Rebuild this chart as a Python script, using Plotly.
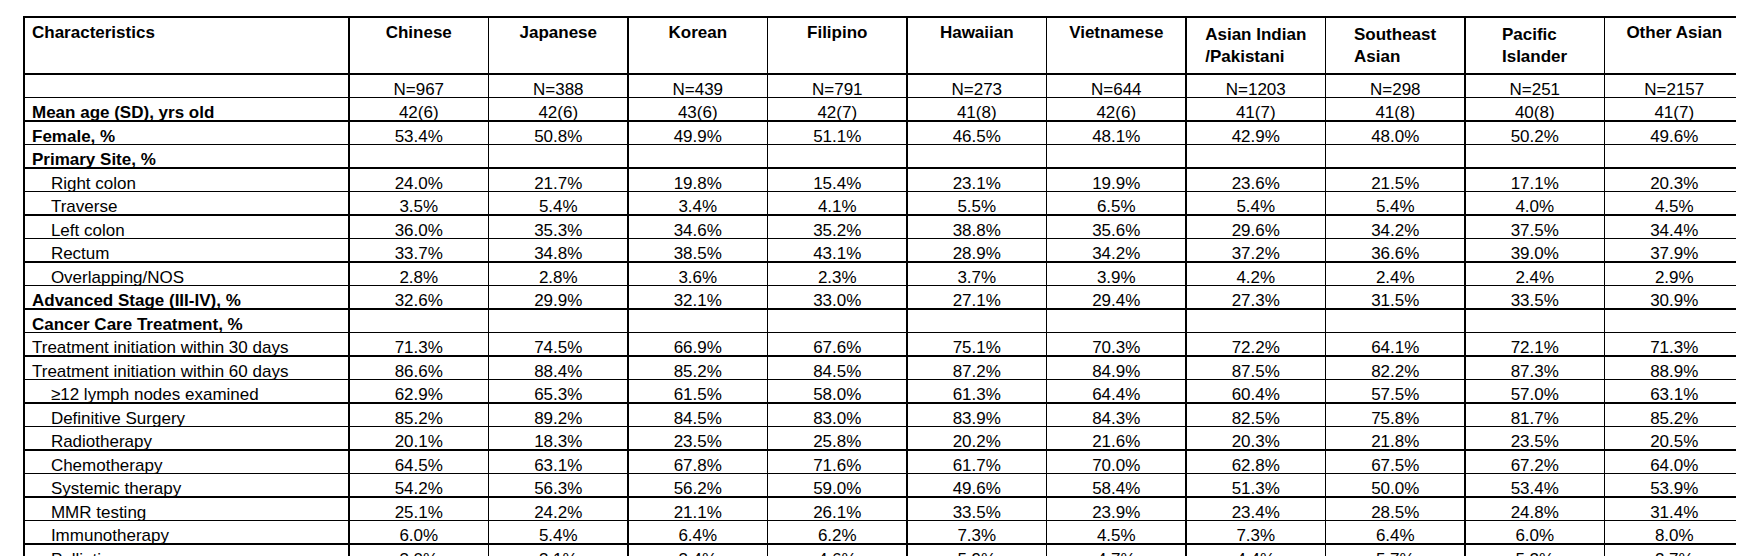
import plotly.graph_objects as go

groups = ["Chinese", "Japanese", "Korean", "Filipino", "Hawaiian", "Vietnamese",
          "Asian Indian<br>/Pakistani", "Southeast<br>Asian", "Pacific<br>Islander", "Other Asian"]
n_sizes = [967, 388, 439, 791, 273, 644, 1203, 298, 251, 2157]

# (label, bold, indent, values)
rows = [
    ("Mean age (SD), yrs old", True, False,
     ["42(6)", "42(6)", "43(6)", "42(7)", "41(8)", "42(6)", "41(7)", "41(8)", "40(8)", "41(7)"]),
    ("Female, %", True, False,
     [53.4, 50.8, 49.9, 51.1, 46.5, 48.1, 42.9, 48.0, 50.2, 49.6]),
    ("Primary Site, %", True, False, None),
    ("Right colon", False, True, [24.0, 21.7, 19.8, 15.4, 23.1, 19.9, 23.6, 21.5, 17.1, 20.3]),
    ("Traverse", False, True, [3.5, 5.4, 3.4, 4.1, 5.5, 6.5, 5.4, 5.4, 4.0, 4.5]),
    ("Left colon", False, True, [36.0, 35.3, 34.6, 35.2, 38.8, 35.6, 29.6, 34.2, 37.5, 34.4]),
    ("Rectum", False, True, [33.7, 34.8, 38.5, 43.1, 28.9, 34.2, 37.2, 36.6, 39.0, 37.9]),
    ("Overlapping/NOS", False, True, [2.8, 2.8, 3.6, 2.3, 3.7, 3.9, 4.2, 2.4, 2.4, 2.9]),
    ("Advanced Stage (III-IV), %", True, False,
     [32.6, 29.9, 32.1, 33.0, 27.1, 29.4, 27.3, 31.5, 33.5, 30.9]),
    ("Cancer Care Treatment, %", True, False, None),
    ("Treatment initiation within 30 days", False, False,
     [71.3, 74.5, 66.9, 67.6, 75.1, 70.3, 72.2, 64.1, 72.1, 71.3]),
    ("Treatment initiation within 60 days", False, False,
     [86.6, 88.4, 85.2, 84.5, 87.2, 84.9, 87.5, 82.2, 87.3, 88.9]),
    ("≥12 lymph nodes examined", False, True, [62.9, 65.3, 61.5, 58.0, 61.3, 64.4, 60.4, 57.5, 57.0, 63.1]),
    ("Definitive Surgery", False, True, [85.2, 89.2, 84.5, 83.0, 83.9, 84.3, 82.5, 75.8, 81.7, 85.2]),
    ("Radiotherapy", False, True, [20.1, 18.3, 23.5, 25.8, 20.2, 21.6, 20.3, 21.8, 23.5, 20.5]),
    ("Chemotherapy", False, True, [64.5, 63.1, 67.8, 71.6, 61.7, 70.0, 62.8, 67.5, 67.2, 64.0]),
    ("Systemic therapy", False, True, [54.2, 56.3, 56.2, 59.0, 49.6, 58.4, 51.3, 50.0, 53.4, 53.9]),
    ("MMR testing", False, True, [25.1, 24.2, 21.1, 26.1, 33.5, 23.9, 23.4, 28.5, 24.8, 31.4]),
    ("Immunotherapy", False, True, [6.0, 5.4, 6.4, 6.2, 7.3, 4.5, 7.3, 6.4, 6.0, 8.0]),
    ("Palliative care", False, True, [3.0, 3.1, 3.4, 4.6, 5.9, 4.7, 4.4, 5.7, 5.2, 2.7]),
]

labels = [""]
weights = ["normal"]
cols = [[f"N={n}"] for n in n_sizes]
for label, bold, indent, vals in rows:
    labels.append(("\u00a0" * 4 + label) if indent else label)
    weights.append("bold" if bold else "normal")
    for j in range(len(groups)):
        if vals is None:
            cols[j].append("")
        elif isinstance(vals[j], str):
            cols[j].append(vals[j])
        else:
            cols[j].append(f"{vals[j]:.1f}%")

header_text = ["Characteristics"] + groups

table = dict(
    type="table",
    columnwidth=[325] + [139.5] * 10,
    header=dict(
        values=header_text,
        align=["left"] + ["center"] * 10,
        line=dict(color="black", width=1.5),
        fill=dict(color="white"),
        font=dict(family="Liberation Sans", size=17, color="black", weight="bold"),
        height=44,
    ),
    cells=dict(
        values=[labels] + cols,
        align=["left"] + ["center"] * 10,
        line=dict(color="black", width=1.5),
        fill=dict(color="white"),
        # per-cell weight: bold labels in first column only
        font=dict(family="Liberation Sans", size=17, color="black",
                  weight=[weights] + ["normal"] * 10),
        height=23.5,
    ),
)

fig = go.Figure(
    data=[table],
    layout=dict(width=1744, height=556,
                margin=dict(l=16, r=8, t=9, b=0),
                paper_bgcolor="white"),
    _validate=False,
)

fig.write_html("out.html")
